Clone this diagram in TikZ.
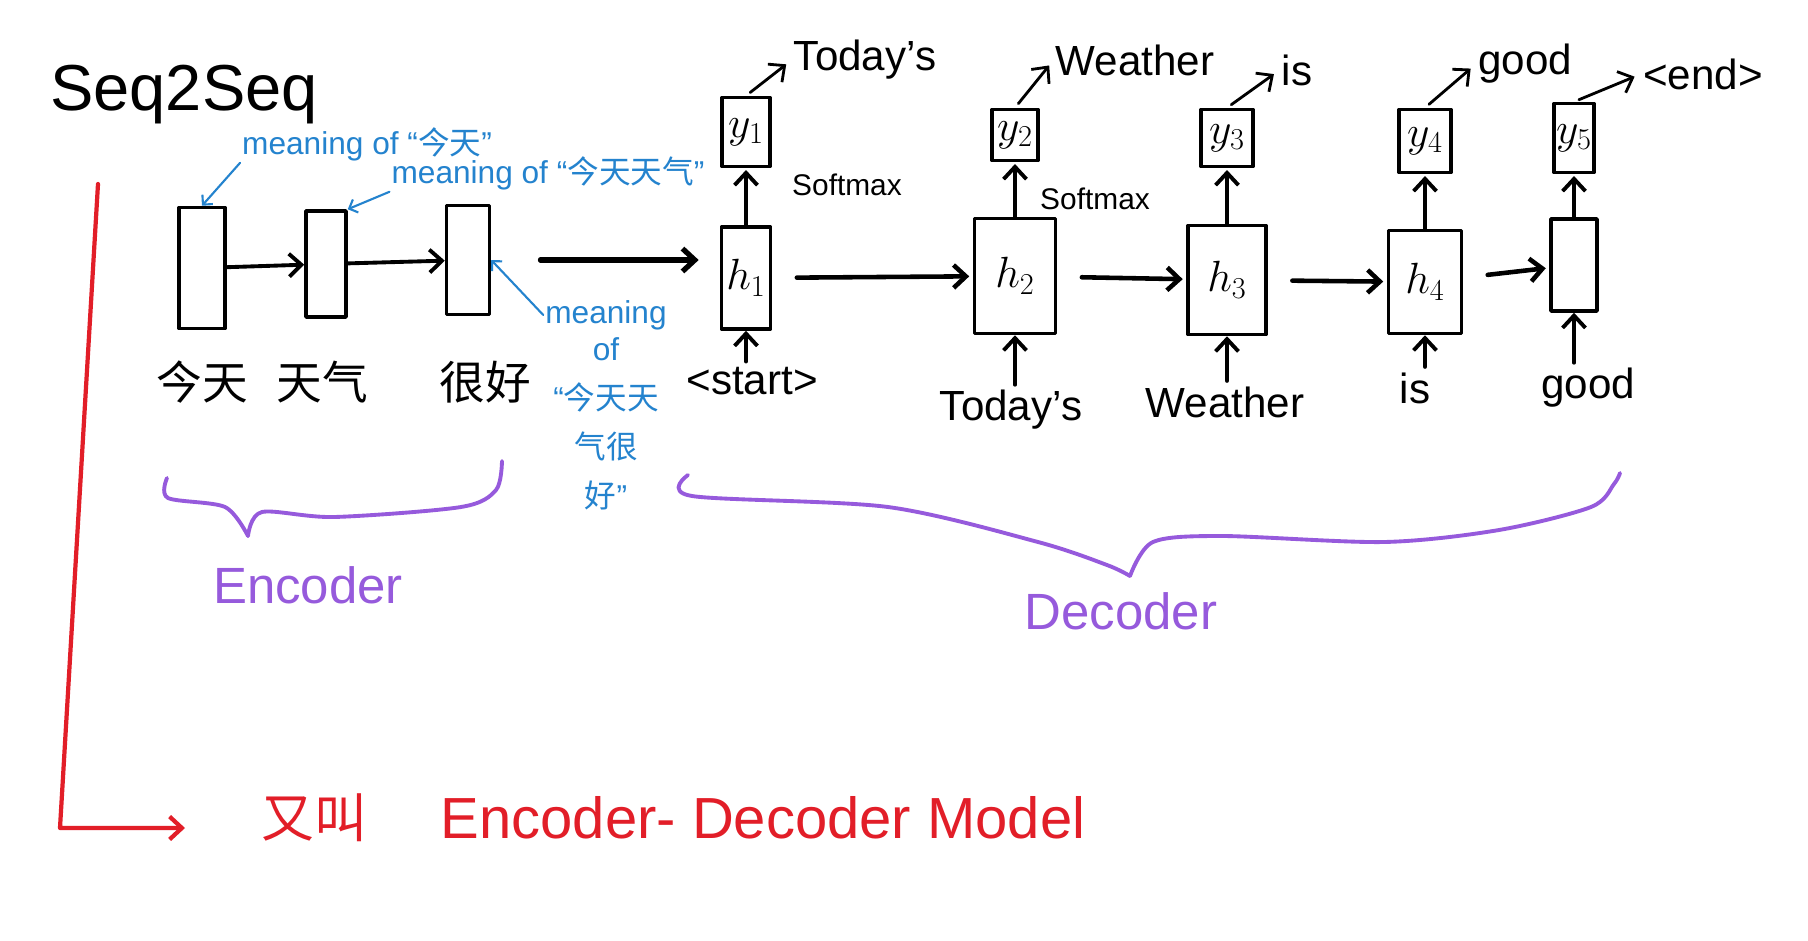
\documentclass[tikz,border=0pt]{standalone}
\usepackage{fontspec}
\setmainfont{Liberation Sans}
\newfontfamily\cjk{Noto Sans CJK SC}
\usetikzlibrary{arrows.meta,positioning}
\definecolor{notecolor}{RGB}{36,131,206}
\definecolor{bracecolor}{RGB}{150,90,220}
\definecolor{modelcolor}{RGB}{226,30,40}
\def\pxu{0.02cm}

\begin{document}
\begin{tikzpicture}[x=\pxu,y=-\pxu,>={Straight Barb[length=7pt,width=13pt]},line cap=round,line join=round]
    \tikzstyle{cell}=[draw,line width=2pt,inner sep=0pt]
    \tikzstyle{word}=[font=\fontsize{24}{28}\selectfont,inner sep=1pt]
    \tikzstyle{hanzi}=[font=\cjk\fontsize{26}{30}\selectfont,inner sep=1pt]
    \tikzstyle{soft}=[font=\fontsize{17}{20}\selectfont,inner sep=1pt]
    \tikzstyle{note}=[text=notecolor,font=\fontsize{18}{28}\selectfont,inner sep=1pt]
    \tikzstyle{link}=[->,line width=2.2pt]
    \tikzstyle{notelink}=[->,draw=notecolor,line width=1.2pt,>={Straight Barb[length=4pt,width=8pt]}]
    \tikzstyle{brace}=[draw=bracecolor,line width=2.2pt]
    \tikzstyle{part}=[text=bracecolor,font=\fontsize{29}{34}\selectfont]
    \tikzstyle{model}=[text=modelcolor,font=\fontsize{33}{38}\selectfont]

    \path[fill=white] (0,0) rectangle (1808,940);
    \useasboundingbox (0,0) rectangle (1808,940);

    % Title
    \node[font=\fontsize{37}{42}\selectfont] (title) at (184,95) {Seq2Seq};

    % Encoder cells and the input words
    \foreach \name/\x/\y/\w/\h/\wx/\word in {1/202/268/46/121/202/今天,2/326/264/40/106/322/天气,3/468/260/43/109/485/很好}
    {
        \node[cell,minimum width=\w*\pxu,minimum height=\h*\pxu] (e\name) at (\x,\y) {};
        \node[hanzi] (w\name) at (\wx,382) {\word};
    }

    % Decoder cells and the outputs above them
    \foreach \name/\x/\hy/\hw/\hh/\yy/\yw/\yh/\lab in {1/746/278/49/102/132/48/69/$h_1$,2/1015/276/81/115/135/46/51/$h_2$,3/1227/280/78/109/138/52/57/$h_3$,4/1425/282/73/103/141/52/63/$h_4$,5/1574/265/46/92/138/40/69/{}}
    {
        \node[cell,word,minimum width=\hw*\pxu,minimum height=\hh*\pxu] (h\name) at (\x,\hy) {\lab};
        \node[cell,word,minimum width=\yw*\pxu,minimum height=\yh*\pxu] (y\name) at (\x,\yy) {$y_{\name}$};
        \draw[link,shorten >=1pt] (h\name) -- (y\name);
    }

    % Words fed into the decoder
    \foreach \name/\x/\y/\txt in {1/752/381/{<start>},2/1011/410/Today's,3/1225/402/Weather,4/1415/388/is,5/1588/388/good}
    {
        \node[word] (in\name) at (\x,\y) {\txt};
        \draw[link,shorten <=2pt] (h\name.south |- in\name.north) -- (h\name.south);
    }

    % Words given out by the decoder
    \foreach \name/\x/\y/\txt in {1/865/60/Today's,2/1135/60/Weather,3/1297/70/is,4/1525/64/good,5/1703/74/{<end>}}
    {
        \node[word] (out\name) at (\x,\y) {\txt};
        \draw[->,line width=1.6pt,shorten <=3pt,shorten >=4pt] (y\name.north) -- (out\name.west);
    }

    \node[soft] (sm1) at (847,185) {Softmax};
    \node[soft] (sm2) at (1095,199) {Softmax};

    % Pass the hidden state along
    \draw[link] (e1) -- (e2);
    \draw[link] (e2) -- (e3);
    \draw[link,line width=3pt,shorten <=28pt,shorten >=12pt] (e3) -- (e3 -| h1.west);
    \foreach \a/\b in {1/2,2/3,3/4,4/5}
        \draw[link,line width=2.6pt,shorten <=14pt,shorten >=2pt] (h\a) -- (h\b);

    % What each encoder cell holds
    \node[note] (n1) at (367,144) {meaning of “{\cjk 今天}”};
    \node[note] (n2) at (548,173) {meaning of “{\cjk 今天天气}”};
    \node[note] (n3) at (606,315) {meaning};
    \node[note,align=center,below=2pt of n3] (n3b) {of\\“{\cjk 今天天}\\{\cjk 气很}\\{\cjk 好}”};
    \draw[notelink] (n1.south west) -- (e1.north);
    \draw[notelink] (n2.south west) -- (e2.north east);
    \draw[notelink] (n3.west) -- (e3.east);

    % Braces for the two halves
    \draw[brace] plot[smooth] coordinates {(167,478) (168,498) (225,507) (248,536)};
    \draw[brace] plot[smooth] coordinates {(248,536) (262,512) (334,517) (461,507) (496,490) (502,461)};
    \draw[brace] plot[smooth] coordinates {(688,475) (692,496) (888,507) (1038,542) (1107,565) (1130,576)};
    \draw[brace] plot[smooth] coordinates {(1130,576) (1153,542) (1222,536) (1384,542) (1499,530) (1591,507) (1614,484) (1620,473)};
    \node[part] (enc) at (308,585) {Encoder};
    \node[part] (dec) at (1121,611) {Decoder};

    % Other name of the model
    \coordinate (redtop) at (98,184);
    \coordinate (redcorner) at (60,828);
    \coordinate (redend) at (185,828);
    \draw[->,draw=modelcolor,line width=2.4pt] (redtop) -- (redcorner) -- (redend);
    \node[model,font=\cjk\fontsize{30}{34}\selectfont] (alias) at (314,818) {又叫};
    \node[model] (name) at (763,818) {Encoder- Decoder Model};
\end{tikzpicture}
\end{document}
